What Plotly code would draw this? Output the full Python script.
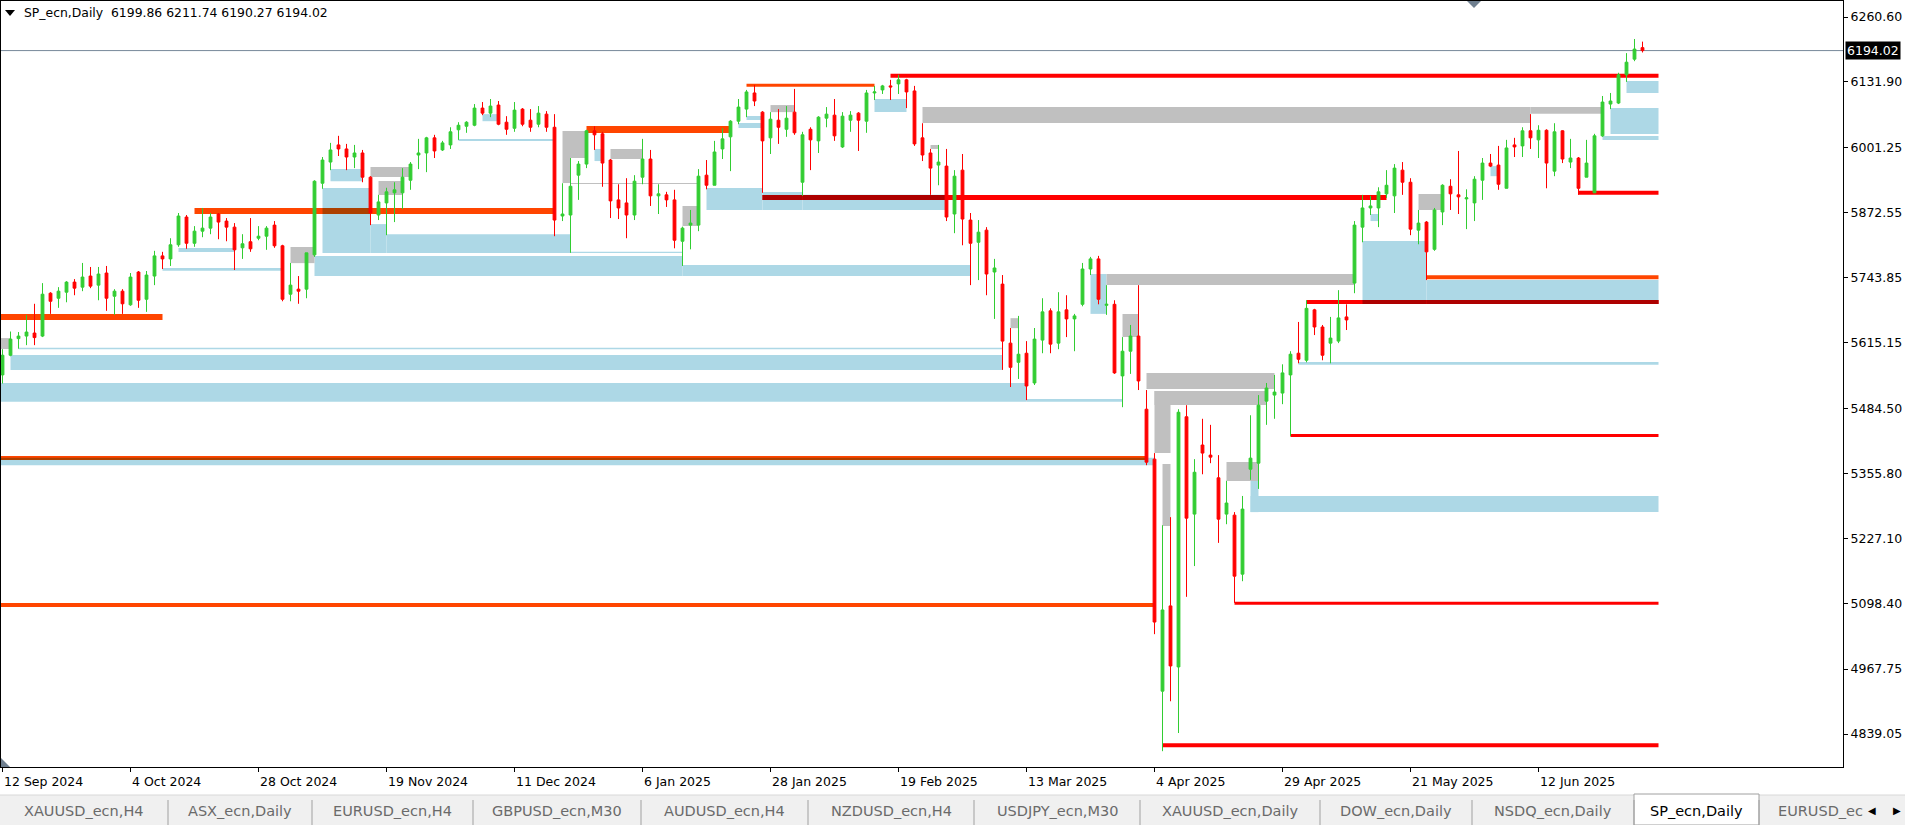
import pandas as pd
import plotly.graph_objects as go

# ---------------- data ----------------
OPEN = [5551, 5590, 5623, 5628, 5634, 5628, 5713, 5703, 5715, 5735, 5725, 5747, 5729, 5753, 5707, 5717, 5690, 5755, 5701, 5747,
        5787, 5781, 5809, 5864, 5812, 5836, 5842, 5870, 5856, 5844, 5803, 5815, 5822, 5826, 5848, 5807, 5711, 5721, 5721, 5789,
        5931, 5973, 6007, 5999, 5983, 5991, 5943, 5868, 5892, 5912, 5912, 5937, 5987, 5991, 6021, 5997, 6007, 6037, 6044, 6046,
        6080, 6070, 6086, 6052, 6040, 6078, 6056, 6048, 6068, 6042, 5866, 5868, 5947, 5969, 6035, 6029, 5977, 5898, 5892, 5868,
        5943, 5979, 5906, 5908, 5898, 5816, 5848, 5848, 5947, 5927, 5999, 6023, 6054, 6078, 6110, 6072, 6021, 6056, 6038, 6072,
        5933, 6038, 6015, 6060, 6066, 6003, 6056, 6070, 6054, 6110, 6116, 6124, 6128, 6136, 6114, 6021, 5991, 5967, 5965, 5870,
        5957, 5858, 5814, 5838, 5755, 5731, 5614, 5576, 5594, 5535, 5620, 5678, 5614, 5680, 5662, 5691, 5761, 5781, 5689, 5691,
        5549, 5598, 5628, 5483, 5384, 4924, 5093, 4972, 5468, 5275, 5412, 5392, 5347, 5275, 5273, 5156, 5364, 5376, 5499, 5511,
        5515, 5551, 5594, 5580, 5680, 5646, 5614, 5618, 5666, 5733, 5844, 5882, 5882, 5910, 5906, 5957, 5933, 5838, 5854, 5800,
        5874, 5925, 5908, 5900, 5892, 5937, 5971, 5967, 5921, 6007, 6005, 6035, 6017, 6036, 5955, 6035, 5973, 5981, 5943, 5912,
        6025, 6088, 6090, 6146, 6177, 6199.86]
HIGH = [5602, 5637, 5636, 5670, 5692, 5733, 5715, 5725, 5737, 5741, 5773, 5765, 5765, 5767, 5721, 5721, 5753, 5757, 5757, 5797,
        5795, 5822, 5872, 5868, 5846, 5882, 5872, 5872, 5862, 5852, 5830, 5862, 5846, 5846, 5856, 5809, 5773, 5747, 5793, 5937,
        5983, 6011, 6025, 6009, 6007, 5997, 5945, 5908, 5922, 5933, 5961, 5973, 6019, 6023, 6027, 6015, 6042, 6052, 6054, 6088,
        6092, 6098, 6094, 6064, 6092, 6080, 6078, 6084, 6074, 6068, 5931, 5981, 5975, 6037, 6044, 6033, 5979, 5929, 5941, 5947,
        6019, 5997, 5929, 5914, 5918, 5845, 5878, 5959, 5977, 6015, 6040, 6056, 6098, 6116, 6126, 6074, 6072, 6078, 6084, 6118,
        6033, 6042, 6064, 6082, 6098, 6072, 6074, 6072, 6116, 6124, 6126, 6136, 6146, 6138, 6124, 6050, 5999, 6007, 5999, 5957,
        5989, 5872, 5858, 5844, 5781, 5749, 5644, 5668, 5618, 5644, 5703, 5683, 5715, 5709, 5672, 5773, 5785, 5787, 5729, 5699,
        5626, 5650, 5729, 5521, 5396, 5253, 5269, 5483, 5491, 5384, 5464, 5452, 5392, 5341, 5279, 5311, 5471, 5511, 5535, 5551,
        5572, 5598, 5656, 5699, 5682, 5650, 5666, 5719, 5691, 5856, 5908, 5906, 5923, 5957, 5969, 5973, 5941, 5878, 5856, 5882,
        5929, 5939, 5995, 5919, 5945, 5981, 5989, 6005, 6017, 6021, 6042, 6068, 6046, 6038, 6050, 6036, 6019, 5983, 6017, 6029,
        6104, 6110, 6150, 6189, 6217, 6211.74]
LOW = [5534, 5588, 5603, 5610, 5610, 5626, 5672, 5684, 5695, 5709, 5717, 5723, 5699, 5678, 5670, 5672, 5688, 5684, 5676, 5729,
       5761, 5767, 5805, 5801, 5805, 5824, 5830, 5820, 5816, 5759, 5781, 5795, 5818, 5799, 5803, 5697, 5697, 5692, 5703, 5785,
       5920, 5957, 5985, 5957, 5961, 5933, 5848, 5858, 5828, 5854, 5880, 5918, 5959, 5953, 5981, 5995, 5999, 6017, 6031, 6044,
       6066, 6062, 6046, 6027, 6033, 6044, 6033, 6042, 6033, 5826, 5856, 5793, 5898, 5961, 5997, 5924, 5862, 5860, 5822, 5858,
       5929, 5886, 5870, 5884, 5802, 5767, 5800, 5836, 5919, 5927, 5979, 5955, 6048, 6062, 6084, 5912, 5989, 6009, 6023, 6027,
       5906, 5957, 5991, 6042, 6015, 6001, 6033, 5995, 6031, 6096, 6108, 6096, 6108, 6080, 6005, 5975, 5908, 5927, 5856, 5832,
       5808, 5729, 5739, 5709, 5662, 5561, 5527, 5543, 5501, 5531, 5594, 5594, 5602, 5626, 5598, 5687, 5749, 5691, 5670, 5553,
       5487, 5553, 5521, 5372, 5037, 4805, 4904, 4841, 5111, 5172, 5354, 5376, 5218, 5255, 5099, 5142, 5343, 5325, 5452, 5464,
       5493, 5430, 5574, 5576, 5630, 5580, 5574, 5614, 5640, 5713, 5814, 5868, 5844, 5902, 5872, 5908, 5828, 5810, 5739, 5797,
       5848, 5878, 5870, 5840, 5856, 5898, 5963, 5918, 5921, 5983, 5983, 5999, 5981, 5921, 5945, 5971, 5961, 5908, 5943, 5912,
       6023, 6078, 6088, 6132, 6173, 6190.27]
CLOSE = [5590, 5622, 5628, 5636, 5625, 5711, 5697, 5717, 5735, 5723, 5745, 5727, 5751, 5703, 5717, 5692, 5745, 5699, 5749, 5787,
         5781, 5809, 5866, 5812, 5836, 5842, 5864, 5854, 5844, 5799, 5811, 5801, 5826, 5842, 5807, 5701, 5729, 5717, 5793, 5935,
         5977, 5997, 5999, 5983, 5991, 5943, 5872, 5894, 5914, 5918, 5943, 5969, 5991, 6021, 5995, 6011, 6033, 6046, 6052, 6080,
         6070, 6084, 6048, 6038, 6076, 6048, 6042, 6070, 6042, 5858, 5870, 5925, 5969, 6035, 6027, 5971, 5896, 5882, 5868, 5935,
         5979, 5906, 5910, 5898, 5818, 5842, 5852, 5945, 5927, 5993, 6019, 6054, 6082, 6112, 6094, 6015, 6058, 6042, 6060, 6031,
         6027, 6017, 6062, 6068, 6025, 6064, 6066, 6056, 6110, 6112, 6124, 6122, 6136, 6112, 6009, 5987, 5961, 5973, 5864, 5945,
         5860, 5812, 5834, 5751, 5763, 5618, 5566, 5592, 5529, 5622, 5676, 5612, 5676, 5662, 5668, 5761, 5781, 5701, 5691, 5555,
         5598, 5628, 5539, 5378, 5061, 5085, 4974, 5477, 5267, 5358, 5396, 5388, 5265, 5297, 5152, 5285, 5386, 5491, 5525, 5517,
         5555, 5592, 5582, 5683, 5646, 5590, 5624, 5664, 5660, 5848, 5882, 5886, 5914, 5927, 5961, 5933, 5840, 5852, 5795, 5878,
         5927, 5910, 5904, 5902, 5939, 5971, 5965, 5929, 6001, 6003, 6035, 6021, 6036, 5971, 6033, 5979, 5981, 5921, 5971, 6025,
         6092, 6094, 6146, 6171, 6197, 6194.02]

HOLIDAYS = ["2024-12-25", "2025-01-01", "2025-04-18"]
DATES = [d for d in pd.bdate_range("2024-09-12", "2025-08-29")
         if d.strftime("%Y-%m-%d") not in HOLIDAYS][:len(OPEN)]
LABEL_EVERY = 16

Y_TICKS = [6260.60, 6131.90, 6001.25, 5872.55, 5743.85, 5615.15, 5484.50,
           5355.80, 5227.10, 5098.40, 4967.75, 4839.05]

SYMBOL = "SP_ecn,Daily"
BID = 6194.02
ZONE_END = 207

# zones: (first bar, last bar, top price, bottom price)
BLUE_ZONES = [
    (2, 125, 5605, 5602), (1, 125, 5590.5, 5560.7), (-1, 128, 5535, 5498), (128, 140, 5503, 5498),
    (39, 85, 5787, 5747), (85, 121, 5769, 5747), (71, 85, 5795, 5792.7), (40, 46, 5921.6, 5792.7),
    (46, 48, 5850, 5792.7), (48, 71, 5830, 5792.7), (41, 45, 5959, 5935), (22, 29, 5802.6, 5794.7),
    (20, 35, 5763, 5757.6), (57, 69, 6018.7, 6014.8), (60, 62, 6068, 6054), (74, 75, 5999, 5975),
    (88, 95, 5921.6, 5878), (95, 100, 5913.7, 5878), (100, 118, 5908, 5878), (92, 95, 6050.4, 6040.5),
    (93, 95, 6064.3, 6056.4), (109, 113, 6098, 6072.3), (136, 138, 5751, 5672),
    (156, ZONE_END, 5311, 5279), (156, 157, 5350.6, 5279), (170, 178, 5816.5, 5691.6),
    (178, ZONE_END, 5739.2, 5691.6), (162, ZONE_END, 5576.6, 5571), (171, 172, 5870, 5856),
    (186, 187, 5965, 5945), (201, ZONE_END, 6080, 6028.6), (200, ZONE_END, 6024.7, 6016.7),
    (203, ZONE_END, 6133.7, 6110), (-1, 144, 5387, 5371.8),
]
GRAY_ZONES = [
    (-1, 1, 5624, 5602.4), (36, 39, 5804.6, 5772.6), (46, 51, 5963, 5943.4), (47, 50, 5935.4, 5907.7),
    (70, 73, 6034.6, 5981), (70, 71, 5981, 5931.4), (76, 80, 5999, 5979), (71, 87, 5931.5, 5929.5),
    (85, 87, 5885.9, 5846.2), (96, 99, 6086, 6072), (116, 117, 6006.8, 5999), (115, 191, 6082.2, 6050.4),
    (191, 200, 6082.2, 6068.7), (126, 127, 5663.5, 5643.7), (138, 169, 5751, 5729.3),
    (140, 142, 5671.8, 5626.2), (143, 159, 5554.8, 5523), (144, 158, 5519, 5491.3),
    (144, 146, 5519, 5396.2), (145, 146, 5374.4, 5251.5), (153, 157, 5378.3, 5340.7),
    (177, 180, 5909.7, 5878),
]
# levels: (first bar, last bar, price)
ORANGE_LEVELS = [(-1, 20, 5665.8), (24, 69, 5876), (73, 91, 6037.5), (93, 109, 6125.2),
                 (-1, 143, 5386.3), (-1, 144, 5094.9), (178, ZONE_END, 5744.7)]
RED_LEVELS = [(111, ZONE_END, 6144), (95, 173, 5902.7), (145, ZONE_END, 4816.7),
              (154, ZONE_END, 5098.4), (161, ZONE_END, 5431), (163, ZONE_END, 5695.7),
              (197, ZONE_END, 5912)]

TABS = ["XAUUSD_ecn,H4", "ASX_ecn,Daily", "EURUSD_ecn,H4", "GBPUSD_ecn,M30", "AUDUSD_ecn,H4",
        "NZDUSD_ecn,H4", "USDJPY_ecn,M30", "XAUUSD_ecn,Daily", "DOW_ecn,Daily", "NSDQ_ecn,Daily",
        "SP_ecn,Daily", "EURUSD_ecn,H1"]
ACTIVE_TAB = "SP_ecn,Daily"

# ---------------- styles / layout geometry ----------------
W, H = 1905, 825
PL, PR, PT, PB = 1, 1843, 1, 767          # plot area in pixels
BAR_PX = 8.0
FIRST_BAR_PX = 2.5
PRICE_PER_PX = 1.9826
TOP_PRICE = 6294.3 - PRICE_PER_PX * PT
X_RANGE = [(PL - FIRST_BAR_PX) / BAR_PX, (PR - FIRST_BAR_PX) / BAR_PX]
Y_RANGE = [TOP_PRICE - PRICE_PER_PX * (PB - PT), TOP_PRICE]

GREEN = "#32CD32"
RED = "#FF0000"
ORANGE = "#FF4500"
LIGHTBLUE = "#ADD8E6"
SILVER = "#C0C0C0"
ORANGE_W = [6, 6, 7, 3, 4, 4, 4]
RED_W = [4, 5, 4, 3, 3, 4, 4]
FONT = "DejaVu Sans"

TAB_SEPS = [168, 312, 473, 641, 808, 974, 1140, 1320, 1472, 1634, 1759, 1862]


def fx(px):
    return (px - PL) / (PR - PL)


def fy(py):
    return (PB - py) / (PB - PT)


def hex_and(c1, c2):
    a = [int(c1[i:i + 2], 16) for i in (1, 3, 5)]
    b = [int(c2[i:i + 2], 16) for i in (1, 3, 5)]
    return "#%02X%02X%02X" % tuple(x & y for x, y in zip(a, b))


fig = go.Figure()
fig.add_trace(go.Candlestick(
    x=list(range(len(OPEN))), open=OPEN, high=HIGH, low=LOW, close=CLOSE,
    increasing=dict(line=dict(color=GREEN, width=1), fillcolor=GREEN),
    decreasing=dict(line=dict(color=RED, width=1), fillcolor=RED),
    whiskerwidth=0, showlegend=False, hoverinfo="skip",
))

shapes = []
rects = []
for (s, e, t, b) in BLUE_ZONES:
    rects.append((s, e, t, b, LIGHTBLUE))
for (s, e, t, b) in GRAY_ZONES:
    rects.append((s, e, t, b, SILVER))
for (s, e, t, b, c) in rects:
    shapes.append(dict(type="rect", xref="x", yref="y", x0=s, x1=e, y0=b, y1=t,
                       fillcolor=c, line=dict(width=0), layer="below"))

levels = [(s, e, p, w, ORANGE) for (s, e, p), w in zip(ORANGE_LEVELS, ORANGE_W)] + \
         [(s, e, p, w, RED) for (s, e, p), w in zip(RED_LEVELS, RED_W)]
for (s, e, p, w, c) in levels:
    shapes.append(dict(type="line", xref="x", yref="y", x0=s, x1=e, y0=p, y1=p,
                       line=dict(color=c, width=w), layer="below"))
# MT4 draws background objects with an AND raster op where they overlap
for (s, e, p, w, c) in levels:
    half = w / 2.0 * PRICE_PER_PX
    for (rs, re_, rt, rb, rc) in rects:
        xs, xe = max(s, rs), min(e, re_)
        ys, ye = max(p - half, rb), min(p + half, rt)
        if xe > xs and ye > ys:
            shapes.append(dict(type="rect", xref="x", yref="y", x0=xs, x1=xe, y0=ys, y1=ye,
                               fillcolor=hex_and(c, rc), line=dict(width=0), layer="below"))

# bid line
shapes.append(dict(type="line", xref="paper", yref="y", x0=0, x1=1, y0=BID, y1=BID,
                   line=dict(color="#778899", width=1), layer="below"))
# chart shift marker, corner marker, header triangle
shapes.append(dict(type="path", xref="paper", yref="paper",
                   path="M %f,%f L %f,%f L %f,%f Z" % (fx(1467), fy(1), fx(1481), fy(1), fx(1474), fy(8)),
                   fillcolor="#708090", line=dict(width=0)))
shapes.append(dict(type="path", xref="paper", yref="paper",
                   path="M %f,%f L %f,%f L %f,%f Z" % (fx(1), fy(758), fx(1), fy(767), fx(10), fy(767)),
                   fillcolor="#708090", line=dict(width=0)))
shapes.append(dict(type="path", xref="paper", yref="paper",
                   path="M %f,%f L %f,%f L %f,%f Z" % (fx(5), fy(10), fx(15), fy(10), fx(10), fy(16)),
                   fillcolor="black", line=dict(width=0)))

# tab bar
shapes.append(dict(type="rect", xref="paper", yref="paper", x0=fx(0), x1=fx(W), y0=fy(H), y1=fy(795),
                   fillcolor="#F0F0F0", line=dict(width=0)))
shapes.append(dict(type="line", xref="paper", yref="paper", x0=fx(0), x1=fx(W), y0=fy(795), y1=fy(795),
                   line=dict(color="#D8D8D8", width=1)))
act = TABS.index(ACTIVE_TAB)
shapes.append(dict(type="rect", xref="paper", yref="paper", x0=fx(TAB_SEPS[act - 1]), x1=fx(TAB_SEPS[act]),
                   y0=fy(H), y1=fy(794), fillcolor="#FFFFFF", line=dict(color="#A0A0A0", width=1)))
for sx in TAB_SEPS[:-1]:
    shapes.append(dict(type="line", xref="paper", yref="paper", x0=fx(sx), x1=fx(sx), y0=fy(800), y1=fy(825),
                       line=dict(color="#A0A0A0", width=1)))

annotations = []
annotations.append(dict(xref="paper", yref="paper", x=fx(22), y=fy(13), xanchor="left", yanchor="middle",
                        showarrow=False, text="%s  %.2f %.2f %.2f %.2f" % (SYMBOL, OPEN[-1], HIGH[-1], LOW[-1], CLOSE[-1]),
                        font=dict(family=FONT, size=12.4, color="black")))
annotations.append(dict(xref="paper", yref="y", x=1, y=BID, xanchor="left", yanchor="middle", xshift=2,
                        showarrow=False, text="%.2f" % BID, bgcolor="black", borderpad=1,
                        font=dict(family=FONT, size=12.5, color="white")))
for k in range(0, len(DATES), LABEL_EVERY):
    d = DATES[k]
    annotations.append(dict(xref="x", yref="paper", x=k, y=0, yshift=-14, xshift=-1, xanchor="left",
                            yanchor="middle", showarrow=False, text="%d %s" % (d.day, d.strftime("%b %Y")),
                            font=dict(family=FONT, size=12.5, color="black")))
lefts = [0] + TAB_SEPS[:-1]
for i, name in enumerate(TABS):
    l, r = lefts[i], TAB_SEPS[i]
    if i == len(TABS) - 1:
        annotations.append(dict(xref="paper", yref="paper", x=fx(l + 17), y=fy(811), xanchor="left",
                                yanchor="middle", showarrow=False, text=name[:9],
                                font=dict(family=FONT, size=14.5, color="#6A6A6A")))
    else:
        annotations.append(dict(xref="paper", yref="paper", x=fx((l + r) / 2), y=fy(811), xanchor="center",
                                yanchor="middle", showarrow=False, text=name,
                                font=dict(family=FONT, size=14.5, color="black" if name == ACTIVE_TAB else "#6A6A6A")))
# cover truncated tab text and draw scroll arrows
shapes.append(dict(type="rect", xref="paper", yref="paper", x0=fx(1862), x1=fx(W), y0=fy(H), y1=fy(796),
                   fillcolor="#F0F0F0", line=dict(width=0)))
for ax_, txt in ((1872, "◀"), (1897, "▶")):
    annotations.append(dict(xref="paper", yref="paper", x=fx(ax_), y=fy(810), xanchor="center", yanchor="middle",
                            showarrow=False, text=txt, font=dict(family=FONT, size=10, color="black")))

fig.update_layout(
    width=W, height=H, margin=dict(l=PL, r=W - PR, t=PT, b=H - PB),
    paper_bgcolor="white", plot_bgcolor="white", showlegend=False,
    boxgap=0.5, hovermode=False,
    shapes=shapes, annotations=annotations,
    xaxis=dict(range=X_RANGE, showgrid=False, zeroline=False, showline=True, mirror=True,
               linecolor="black", linewidth=1, ticks="outside", ticklen=4, tickcolor="black",
               tickvals=list(range(0, len(DATES), LABEL_EVERY)), showticklabels=False,
               rangeslider=dict(visible=False), fixedrange=True),
    yaxis=dict(range=Y_RANGE, side="right", showgrid=False, zeroline=False, showline=True, mirror=True,
               linecolor="black", linewidth=1, ticks="outside", ticklen=4, tickcolor="black",
               tickvals=Y_TICKS, ticktext=["%.2f" % v for v in Y_TICKS],
               tickfont=dict(family=FONT, size=12.5, color="black"), fixedrange=True),
)

fig.write_html("out.html", config={"displayModeBar": False},
               post_script="document.body.style.margin='0';document.body.style.overflow='hidden';")
